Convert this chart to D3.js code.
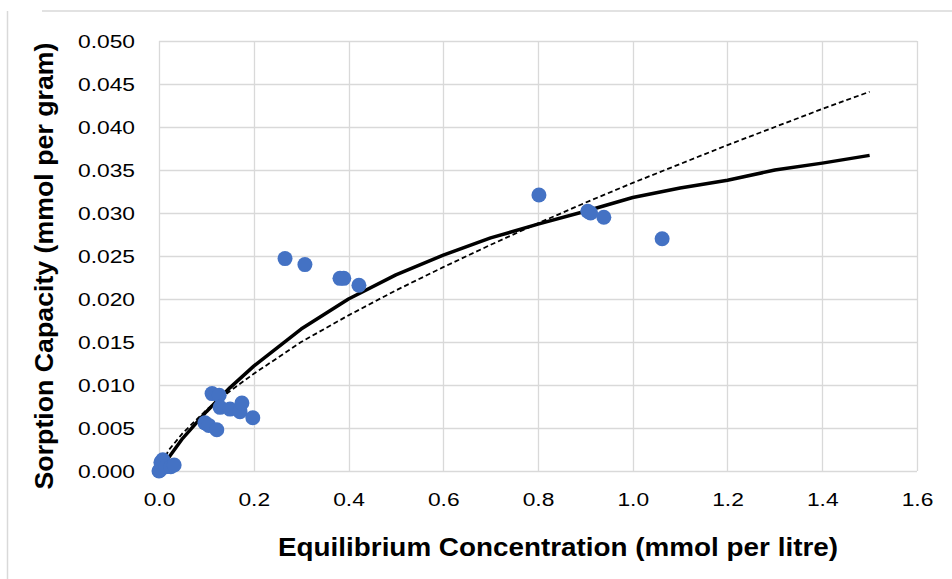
<!DOCTYPE html>
<html>
<head>
<meta charset="utf-8">
<script src="https://cdn.jsdelivr.net/npm/d3@7"></script>
<style>
  html, body { margin: 0; padding: 0; background: #fff; }
  svg { display: block; font-family: "Liberation Sans", Arial, sans-serif; }
</style>
</head>
<body>
<svg id="chart" width="952" height="579"></svg>
<script>
// Observed data points (equilibrium concentration, sorption capacity)
const obsX = [0.000, 0.002, 0.004, 0.008, 0.015, 0.025, 0.032,
              0.097, 0.105, 0.122, 0.112, 0.127, 0.129, 0.150, 0.171, 0.175, 0.198,
              0.266, 0.308, 0.382, 0.390, 0.422,
              0.802, 0.905, 0.911, 0.939, 1.062];
const obsY = [0.0000, 0.0001, 0.0010, 0.0013, 0.0005, 0.0005, 0.0007,
              0.0056, 0.0053, 0.0048, 0.0090, 0.0088, 0.0074, 0.0072, 0.0069, 0.0079, 0.0062,
              0.0247, 0.0240, 0.0224, 0.0224, 0.0216,
              0.0321, 0.0302, 0.0300, 0.0295, 0.0270];

// Solid fitted curve
const fitSolidX = [0, 0.05, 0.1, 0.15, 0.2, 0.3, 0.4, 0.5, 0.6, 0.7, 0.8, 0.9, 1.0, 1.1, 1.2, 1.3, 1.4, 1.5];
const fitSolidY = [0, 0.0038, 0.0069, 0.0097, 0.0122, 0.0165, 0.0200, 0.0228, 0.0251, 0.0271, 0.0287, 0.0302, 0.0318, 0.0329, 0.0338, 0.0350, 0.0358, 0.0367];

// Dashed fitted curve
const fitDashX = [0, 0.02, 0.05, 0.1, 0.15, 0.2, 0.3, 0.4, 0.5, 0.6, 0.7, 0.8, 0.9, 1.0, 1.1, 1.2, 1.3, 1.4, 1.5];
const fitDashY = [0, 0.0024, 0.0044, 0.0071, 0.0093, 0.0113, 0.0150, 0.0181, 0.0210, 0.0237, 0.0263, 0.0288, 0.0312, 0.0335, 0.0357, 0.0379, 0.0400, 0.0421, 0.0441];

const xTicks = [0, 0.2, 0.4, 0.6, 0.8, 1.0, 1.2, 1.4, 1.6];
const yTicks = [0, 0.005, 0.010, 0.015, 0.020, 0.025, 0.030, 0.035, 0.040, 0.045, 0.050];

const xTitle = "Equilibrium Concentration (mmol per litre)";
const yTitle = "Sorption Capacity (mmol per gram)";

const svg = d3.select("#chart");
const L = 159, R = 917, T = 41, B = 471;
const SX = 1.2; // horizontal stretch of tick label glyphs

const x = d3.scaleLinear().domain([0, 1.6]).range([L, R]);
const y = d3.scaleLinear().domain([0, 0.05]).range([B, T]);

// outer chart frame (partially visible)
svg.append("line").attr("x1", 7.5).attr("x2", 7.5).attr("y1", 11).attr("y2", 579)
  .attr("stroke", "#d9d9d9").attr("stroke-width", 1.5);
svg.append("line").attr("x1", 42).attr("x2", 952).attr("y1", 11).attr("y2", 11)
  .attr("stroke", "#d9d9d9").attr("stroke-width", 1.5);

// gridlines
const grid = svg.append("g");
grid.selectAll("line.h").data(yTicks).join("line")
  .attr("x1", L).attr("x2", R)
  .attr("y1", d => Math.round(y(d)) + 0.5).attr("y2", d => Math.round(y(d)) + 0.5)
  .attr("stroke", "#d9d9d9").attr("stroke-width", 1.3);
grid.selectAll("line.v").data(xTicks).join("line")
  .attr("y1", T).attr("y2", B)
  .attr("x1", d => Math.round(x(d)) + 0.5).attr("x2", d => Math.round(x(d)) + 0.5)
  .attr("stroke", "#d9d9d9").attr("stroke-width", 1.3);

// axes (labels only)
const xAxis = svg.append("g").attr("transform", `translate(0,${B})`)
  .call(d3.axisBottom(x).tickValues(xTicks).tickFormat(d3.format(".1f")).tickSize(0).tickPadding(22));
const yAxis = svg.append("g").attr("transform", `translate(${L},0)`)
  .call(d3.axisLeft(y).tickValues(yTicks).tickFormat(d3.format(".3f")).tickSize(0).tickPadding(24));
[xAxis, yAxis].forEach(a => {
  a.select(".domain").remove();
  a.selectAll("text").attr("fill", "#000").style("font-size", "19px")
    .style("font-family", "'Liberation Sans', Arial, sans-serif");
});
xAxis.selectAll("text").attr("transform", `scale(${SX},1)`);
yAxis.selectAll("text").attr("x", -24 / SX).attr("transform", `scale(${SX},1)`);

// fitted lines
const line = d3.line().x(d => x(d[0])).y(d => y(d[1]));
svg.append("path").datum(fitDashX.map((v, i) => [v, fitDashY[i]]))
  .attr("d", line).attr("fill", "none").attr("stroke", "#000")
  .attr("stroke-width", 1.8).attr("stroke-dasharray", "5,3");
svg.append("path").datum(fitSolidX.map((v, i) => [v, fitSolidY[i]]))
  .attr("d", line).attr("fill", "none").attr("stroke", "#000")
  .attr("stroke-width", 3.5).attr("stroke-linejoin", "round");

// data points
svg.append("g").selectAll("circle").data(obsX.map((v, i) => [v, obsY[i]])).join("circle")
  .attr("cx", d => x(d[0])).attr("cy", d => y(d[1])).attr("r", 7.5)
  .attr("fill", "#4472C4");

// titles
svg.append("text").text(xTitle)
  .attr("x", 558).attr("y", 556).attr("text-anchor", "middle")
  .attr("textLength", 560).attr("lengthAdjust", "spacingAndGlyphs")
  .style("font-weight", "bold").style("font-size", "25px").attr("fill", "#000");
svg.append("text").text(yTitle)
  .attr("transform", "translate(53,266) rotate(-90)").attr("text-anchor", "middle")
  .attr("textLength", 447).attr("lengthAdjust", "spacingAndGlyphs")
  .style("font-weight", "bold").style("font-size", "25px").attr("fill", "#000");
</script>
</body>
</html>
